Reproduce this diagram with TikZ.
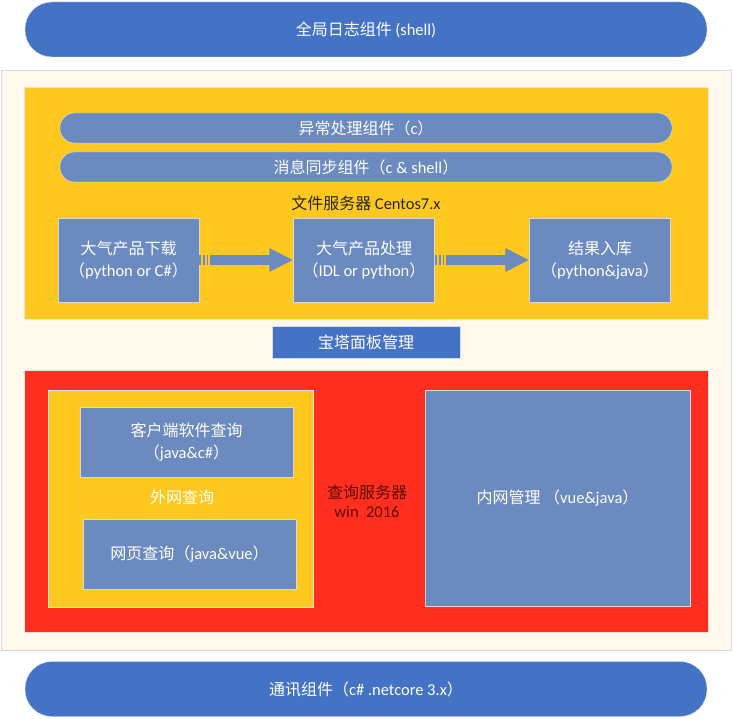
\documentclass[tikz,border=0pt]{standalone}
\usepackage{fontspec}
\setmainfont{Noto Sans CJK SC}
\newfontfamily\lat[Scale=1.03]{Carlito}
\usetikzlibrary{arrows.meta}
\definecolor{pillblue}{HTML}{4472C4}
\definecolor{boxblue}{HTML}{6A8AC0}
\definecolor{gold}{HTML}{FFC81E}
\definecolor{alarm}{HTML}{FF2E1F}
\definecolor{cream}{HTML}{FFF8EC}
\definecolor{darkred}{HTML}{5E0B05}
\begin{document}
\begin{tikzpicture}[x=1pt, y=-1pt,
  zone/.style={inner sep=0pt, outer sep=0pt},
  pill/.style={fill=pillblue, draw=white!75!pillblue, text=white,
               minimum width=682pt, minimum height=55pt, rounded corners=27pt,
               font=\fontsize{16}{19}\selectfont},
  bar/.style={fill=boxblue, draw=white!75!boxblue, text=white,
              minimum width=612pt, minimum height=30pt, rounded corners=14.5pt,
              font=\fontsize{16}{19}\selectfont},
  task/.style={fill=boxblue, draw=white!70!gray, text=white, align=center,
               font=\fontsize{16}{22}\selectfont, inner sep=0pt},
  flow/.style={boxblue, line width=10pt, -{Triangle[length=24pt, width=22pt]}},
  stripes/.style={boxblue, line width=10pt, dash pattern=on 2pt off 2pt}
]
  \useasboundingbox (0,0) rectangle (733,719);

  % zones
  \node[zone, fill=cream, draw=black!15, minimum width=730pt, minimum height=580pt]
    (outer) at (366,360) {};
  \node[zone, fill=gold, draw=black!10, minimum width=684pt, minimum height=232pt]
    (filesrv) at (366,203) {};
  \node[zone, fill=alarm, draw=black!10, minimum width=684pt, minimum height=262pt]
    (querysrv) at (366,501) {};
  \node[zone, fill=gold, draw=black!10, minimum width=265pt, minimum height=217pt]
    (extnet) at (180.5,498.5) {};

  % global components
  \node[pill] (log) at (366,29.5) {全局日志组件 {\lat (shell)}};
  \node[pill] (comm) at (366,689) {通讯组件（{\lat c\# .netcore 3.x}）};

  % file server
  \node[bar] (err) at (366,128) {异常处理组件（{\lat c}）};
  \node[bar] (sync) at (366,167) {消息同步组件（{\lat c \& shell}）};
  \node[font=\fontsize{16}{19}\selectfont, text=black!85] (fslabel) at (366,203)
    {文件服务器 {\lat Centos7.x}};

  \node[task, minimum width=141pt, minimum height=84pt] (dl) at (128.5,260)
    {大气产品下载\\（{\lat python or C\#}）};
  \node[task, minimum width=141pt, minimum height=84pt] (proc) at (364,260)
    {大气产品处理\\（{\lat IDL or python}）};
  \node[task, minimum width=141pt, minimum height=84pt] (store) at (600,260)
    {结果入库\\（{\lat python\&java}）};

  \draw[stripes] (dl.east) -- ([xshift=9pt]dl.east);
  \draw[flow] ([xshift=11pt]dl.east) -- (proc.west);
  \draw[stripes] (proc.east) -- ([xshift=9pt]proc.east);
  \draw[flow] ([xshift=11pt]proc.east) -- (store.west);

  \node[task, fill=pillblue, draw=white!75!pillblue, minimum width=188pt, minimum height=32pt]
    (panel) at (366,342) {宝塔面板管理};

  % query server
  \node[task, minimum width=213pt, minimum height=70pt] (client) at (186.5,442)
    {客户端软件查询\\（{\lat java\&c\#}）};
  \node[font=\fontsize{16}{19}\selectfont, text=white] (extlabel) at (182,497) {外网查询};
  \node[task, minimum width=213pt, minimum height=70pt] (web) at (189.5,554)
    {网页查询（{\lat java\&vue}）};
  \node[align=center, font=\fontsize{16}{19}\selectfont, text=darkred] (qslabel) at (367,501)
    {查询服务器\\{\lat win\ \ 2016}};
  \node[task, minimum width=265pt, minimum height=216pt] (intra) at (557.5,498)
    {内网管理 （{\lat vue\&java}）};
\end{tikzpicture}
\end{document}
